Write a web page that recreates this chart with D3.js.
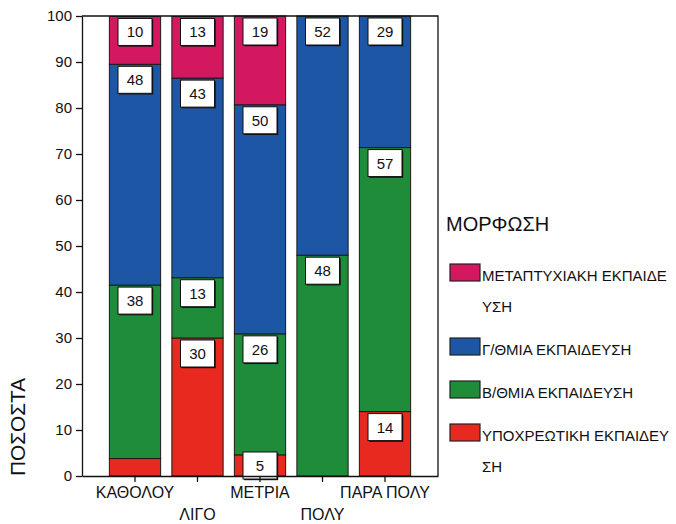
<!DOCTYPE html>
<html>
<head>
<meta charset="utf-8">
<script src="https://cdn.jsdelivr.net/npm/d3@7"></script>
<style>
  html, body { margin: 0; padding: 0; background: #fff; }
  svg { display: block; font-family: Arial, "Liberation Sans", Helvetica, sans-serif; }
</style>
</head>
<body>
<svg id="chart" width="676" height="524"></svg>
<script>
// ---- data (percentages) ----
const categories = ["ΚΑΘΟΛΟΥ", "ΛΙΓΟ", "ΜΕΤΡΙΑ", "ΠΟΛΥ", "ΠΑΡΑ ΠΟΛΥ"];
const seriesKeys = ["ypoxreotiki", "vthmia", "gthmia", "metaptyxiaki"];
const ypoxreotiki  = [3.8, 30.0, 4.6, 0, 14.0];
const vthmia       = [37.7, 13.1, 26.3, 48.0, 57.4];
const gthmia       = [48.0, 43.4, 49.8, 52.0, 28.6];
const metaptyxiaki = [10.4, 13.4, 19.3, 0, 0];
const yTicks = [0, 10, 20, 30, 40, 50, 60, 70, 80, 90, 100];
const legendTitle = "ΜΟΡΦΩΣΗ";
const legendKeys = ["metaptyxiaki", "gthmia", "vthmia", "ypoxreotiki"];
const legendLines = [
  ["ΜΕΤΑΠΤΥΧΙΑΚΗ ΕΚΠΑΙΔΕ", "ΥΣΗ"],
  ["Γ/ΘΜΙΑ ΕΚΠΑΙΔΕΥΣΗ"],
  ["Β/ΘΜΙΑ ΕΚΠΑΙΔΕΥΣΗ"],
  ["ΥΠΟΧΡΕΩΤΙΚΗ ΕΚΠΑΙΔΕΥ", "ΣΗ"]
];
const yTitle = "ΠΟΣΟΣΤΑ";

// ---- styles ----
const colors = {
  ypoxreotiki: "#e8291f",
  vthmia: "#1f8c3a",
  gthmia: "#1d56a4",
  metaptyxiaki: "#d4185f"
};

const seriesData = { ypoxreotiki, vthmia, gthmia, metaptyxiaki };
const table = categories.map((c, i) => {
  const row = { cat: c };
  seriesKeys.forEach(k => row[k] = seriesData[k][i]);
  return row;
});

const svg = d3.select("#chart");
svg.append("rect").attr("width", 676).attr("height", 524).attr("fill", "#fff");

const pLeft = 82, pRight = 438, pTop = 16, pBottom = 476;

const x = d3.scaleBand().domain(categories).range([pLeft, pRight])
  .paddingInner(0.18).paddingOuter(0.438);
const y = d3.scaleLinear().domain([0, 100]).range([pBottom, pTop]);

const stacked = d3.stack().keys(seriesKeys)(table);

// bars
const g = svg.append("g");
stacked.forEach(layer => {
  g.selectAll(null).data(layer.filter(d => d[1] - d[0] > 0)).enter()
    .append("rect")
    .attr("x", d => x(d.data.cat))
    .attr("width", x.bandwidth())
    .attr("y", d => y(d[1]))
    .attr("height", d => y(d[0]) - y(d[1]))
    .attr("fill", colors[layer.key])
    .attr("stroke", "#1a1a1a")
    .attr("stroke-width", 1);
});

// frame (top + right)
svg.append("path")
  .attr("d", `M${pLeft},${pTop}H${pRight}V${pBottom}`)
  .attr("fill", "none").attr("stroke", "#111").attr("stroke-width", 1.3);

// value labels
const fmt = d3.format(".0f");
const bw = 34, bh = 27;
stacked.forEach(layer => {
  const lab = svg.append("g").selectAll(null)
    .data(layer.filter(d => d[1] - d[0] >= 4.5)).enter().append("g")
    .attr("transform", d => `translate(${x(d.data.cat) + x.bandwidth() / 2},${Math.min(y(d[1]) + 2, pBottom + 3 - bh)})`);
  lab.append("rect").attr("x", -bw / 2 + 1.2).attr("y", 1.2).attr("width", bw).attr("height", bh)
    .attr("fill", "#111");
  lab.append("rect").attr("x", -bw / 2).attr("y", 0).attr("width", bw).attr("height", bh)
    .attr("fill", "#fff").attr("stroke", "#111").attr("stroke-width", 1);
  lab.append("text").attr("x", 0).attr("y", 19).attr("text-anchor", "middle")
    .attr("font-size", 15).attr("fill", "#111")
    .text(d => fmt(d.data[layer.key]));
});

// y axis
const yAxis = svg.append("g").attr("transform", `translate(${pLeft},0)`)
  .call(d3.axisLeft(y).tickValues(yTicks).tickSize(6).tickSizeOuter(0).tickPadding(4));
yAxis.selectAll("text").attr("font-size", 15).attr("fill", "#111")
  .attr("font-family", "Arial, 'Liberation Sans', sans-serif");
yAxis.selectAll("line, path").attr("stroke", "#111").attr("stroke-width", 1.3);

// x axis
const xAxis = svg.append("g").attr("transform", `translate(0,${pBottom})`)
  .call(d3.axisBottom(x).tickSize(6).tickSizeOuter(0));
xAxis.selectAll("line, path").attr("stroke", "#111").attr("stroke-width", 1.3);
xAxis.selectAll("text")
  .attr("font-size", 16).attr("fill", "#111")
  .attr("font-family", "Arial, 'Liberation Sans', sans-serif")
  .attr("dy", 0)
  .attr("y", (d, i) => i % 2 ? 44 : 21.5);

// y title
svg.append("text")
  .attr("transform", `translate(25,${pBottom}) rotate(-90)`)
  .attr("text-anchor", "start")
  .attr("font-size", 20).attr("fill", "#111")
  .attr("textLength", 98).attr("lengthAdjust", "spacingAndGlyphs")
  .text(yTitle);

// legend
const lg = svg.append("g");
lg.append("text").attr("x", 446).attr("y", 231).attr("font-size", 20).attr("fill", "#111")
  .text(legendTitle);
const itemBaselines = [];
let yCur = 281;
legendLines.forEach(lines => {
  itemBaselines.push(yCur);
  yCur += (lines.length - 1) * 31 + 43;
});
legendKeys.forEach((k, i) => {
  const by = itemBaselines[i];
  lg.append("rect").attr("x", 450).attr("y", by - 17).attr("width", 30).attr("height", 17)
    .attr("fill", colors[k]).attr("stroke", "#222").attr("stroke-width", 1.2);
  legendLines[i].forEach((ln, j) => {
    lg.append("text").attr("x", 482).attr("y", by + j * 31)
      .attr("font-size", 15).attr("fill", "#111").text(ln);
  });
});
</script>
</body>
</html>
